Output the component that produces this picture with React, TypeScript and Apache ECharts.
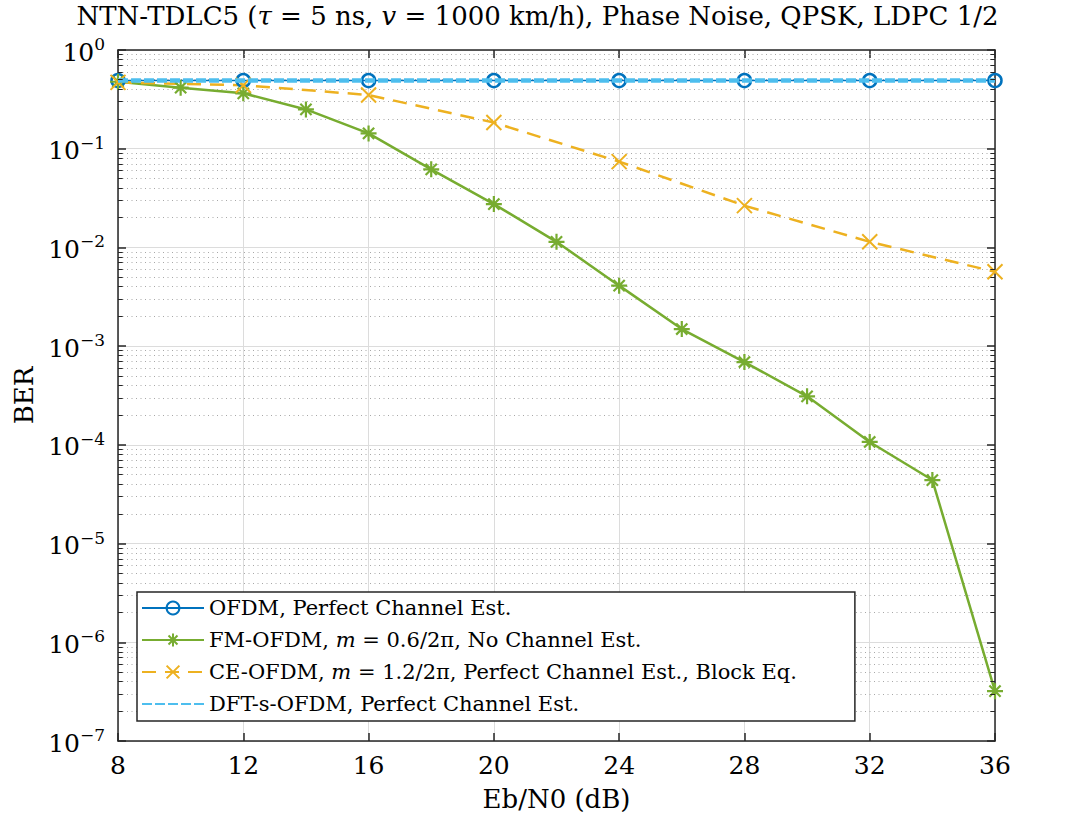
import React, { useEffect, useRef } from "react";
import * as echarts from "echarts";

const ebn0Step2 = [8, 10, 12, 14, 16, 18, 20, 22, 24, 26, 28, 30, 32, 34, 36];
const fmOfdmBer = [0.477, 0.415, 0.364, 0.25, 0.143, 0.0618, 0.0275, 0.0114, 0.0041, 0.00149, 0.00069, 0.00031, 0.000107, 0.000044, 3.2e-7];
const ebn0Step4 = [8, 12, 16, 20, 24, 28, 32, 36];
const ofdmBer = [0.49, 0.49, 0.49, 0.49, 0.49, 0.49, 0.49, 0.49];
const ceOfdmBer = [0.47, 0.44, 0.35, 0.184, 0.074, 0.0265, 0.0114, 0.00567];
const dftsOfdmBer = [0.49, 0.49, 0.49, 0.49, 0.49, 0.49, 0.49, 0.49];

const decadeExponents = [-7, -6, -5, -4, -3, -2, -1];
const minorMultipliers = [2, 3, 4, 5, 6, 7, 8, 9];

const FONT = "DejaVu Serif";
const AXIS_COLOR = "#262626";

export default function App() {
  const ref = useRef<HTMLDivElement>(null);
  useEffect(() => {
    const chart = echarts.init(ref.current!, null, { renderer: "svg" });
    const minorValues: number[] = [];
    decadeExponents.forEach((e) => minorMultipliers.forEach((m) => minorValues.push(m * Math.pow(10, e))));

    const minorGrid = minorValues.map((v) => ({ coords: [[8, v], [36, v]] }));
    const minorTicks = [
      ...minorValues.map((v) => ({ coords: [[8, v], [8.15, v]] })),
      ...minorValues.map((v) => ({ coords: [[35.85, v], [36, v]] })),
    ];

    const pair = (xs: number[], ys: number[]) => xs.map((x, i) => [x, ys[i]]);

    const asterisk = "path://M0,-6L0,6M-6,0L6,0M-4.2,-4.2L4.2,4.2M-4.2,4.2L4.2,-4.2";
    const cross = "path://M-5,-5L5,5M-5,5L5,-5";

    const option: any = {
      animation: false,
      backgroundColor: "#ffffff",
      textStyle: { fontFamily: FONT },
      title: {
        text: "NTN-TDLC5 ({i|τ} = 5 ns, {i|v} = 1000 km/h), Phase Noise, QPSK, LDPC 1/2",
        left: "center",
        top: 1,
        padding: 0,
        textStyle: {
          fontFamily: FONT,
          fontSize: 26,
          lineHeight: 30,
          fontWeight: "normal",
          color: "#000",
          rich: { i: { fontFamily: FONT, fontSize: 26, lineHeight: 30, fontStyle: "italic", color: "#000" } },
        },
      },
      grid: { left: 118, right: 80, top: 50, bottom: 80, containLabel: false },
      legend: {
        orient: "vertical",
        left: 137,
        top: 592,
        data: [
          { name: "OFDM" },
          { name: "FM-OFDM" },
          { name: "CE-OFDM" },
          { name: "DFT-s-OFDM", itemStyle: { opacity: 0 } },
        ],
        backgroundColor: "#ffffff",
        borderColor: AXIS_COLOR,
        borderWidth: 1.5,
        borderRadius: 0,
        padding: [4, 58, 5, 4],
        itemGap: 8,
        itemWidth: 62,
        itemHeight: 16,
        textStyle: {
          fontFamily: FONT,
          fontSize: 21,
          lineHeight: 24,
          color: "#000",
          rich: {
            i: { fontFamily: FONT, fontSize: 21, lineHeight: 24, fontStyle: "italic", color: "#000" },
          },
        },
        formatter: (name: string) => {
          if (name === "OFDM") return "OFDM, Perfect Channel Est.";
          if (name === "FM-OFDM") return "FM-OFDM, {i|m} = 0.6/2π, No Channel Est.";
          if (name === "CE-OFDM") return "CE-OFDM, {i|m} = 1.2/2π, Perfect Channel Est., Block Eq.";
          return "DFT-s-OFDM, Perfect Channel Est.";
        },
      },
      xAxis: [
        {
          type: "value",
          min: 8,
          max: 36,
          interval: 4,
          name: "Eb/N0 (dB)",
          nameLocation: "middle",
          nameGap: 45,
          nameTextStyle: { fontFamily: FONT, fontSize: 26, color: "#000" },
          axisLine: { show: true, lineStyle: { color: AXIS_COLOR, width: 1.5 } },
          axisTick: { show: true, inside: true, length: 8, lineStyle: { color: AXIS_COLOR, width: 1.5 } },
          axisLabel: { fontFamily: FONT, fontSize: 25, color: "#000", margin: 12 },
          splitLine: { show: true, lineStyle: { color: "#dcdcdc", width: 1 } },
        },
        {
          type: "value",
          position: "top",
          min: 8,
          max: 36,
          interval: 4,
          axisLine: { show: true, lineStyle: { color: AXIS_COLOR, width: 1.5 } },
          axisTick: { show: true, inside: true, length: 8, lineStyle: { color: AXIS_COLOR, width: 1.5 } },
          axisLabel: { show: false },
          splitLine: { show: false },
        },
      ],
      yAxis: [
        {
          type: "log",
          logBase: 10,
          min: 1e-7,
          max: 1,
          splitNumber: 7,
          name: "BER",
          nameLocation: "middle",
          nameGap: 78,
          nameTextStyle: { fontFamily: FONT, fontSize: 26, color: "#000" },
          axisLine: { show: true, lineStyle: { color: AXIS_COLOR, width: 1.5 } },
          axisTick: { show: true, inside: true, length: 8, lineStyle: { color: AXIS_COLOR, width: 1.5 } },
          axisLabel: {
            margin: 13,
            formatter: (v: number) => {
              const e = Math.round(Math.log10(v));
              return "{b|10}{s|" + (e < 0 ? "\u2212" + -e : String(e)) + "}";
            },
            rich: {
              b: { fontFamily: FONT, fontSize: 25, color: "#000", verticalAlign: "bottom", lineHeight: 29 },
              s: { fontFamily: FONT, fontSize: 17, color: "#000", verticalAlign: "top", lineHeight: 29 },
            },
          },
          splitLine: { show: true, lineStyle: { color: "#dcdcdc", width: 1 } },
        },
        {
          type: "log",
          logBase: 10,
          min: 1e-7,
          max: 1,
          splitNumber: 7,
          position: "right",
          axisLine: { show: true, lineStyle: { color: AXIS_COLOR, width: 1.5 } },
          axisTick: { show: true, inside: true, length: 8, lineStyle: { color: AXIS_COLOR, width: 1.5 } },
          axisLabel: { show: false },
          splitLine: { show: false },
        },
      ],
      series: [
        {
          name: "minorGrid",
          type: "lines",
          coordinateSystem: "cartesian2d",
          silent: true,
          z: 1,
          lineStyle: { type: [1, 3.5], color: "#a8a8a8", width: 1, opacity: 1 },
          data: minorGrid,
        },
        {
          name: "minorTicks",
          type: "lines",
          coordinateSystem: "cartesian2d",
          silent: true,
          z: 5,
          lineStyle: { type: "solid", color: AXIS_COLOR, width: 1, opacity: 1 },
          data: minorTicks,
        },
        {
          name: "OFDM",
          type: "line",
          data: pair(ebn0Step4, ofdmBer),
          symbol: "circle",
          symbolSize: 13,
          showAllSymbol: true,
          lineStyle: { color: "#0072BD", width: 1.5, type: "solid" },
          itemStyle: { color: "none", borderColor: "#0072BD", borderWidth: 2.5 },
          z: 3,
        },
        {
          name: "FM-OFDM",
          type: "line",
          data: pair(ebn0Step2, fmOfdmBer),
          symbol: asterisk,
          symbolSize: 16,
          showAllSymbol: true,
          lineStyle: { color: "#77AC30", width: 2.5, type: "solid" },
          itemStyle: { color: "none", borderColor: "#77AC30", borderWidth: 2.2 },
          z: 3,
        },
        {
          name: "CE-OFDM",
          type: "line",
          data: pair(ebn0Step4, ceOfdmBer),
          symbol: cross,
          symbolSize: 15,
          showAllSymbol: true,
          lineStyle: { color: "#EDB120", width: 2.5, type: [14, 9] },
          itemStyle: { color: "none", borderColor: "#EDB120", borderWidth: 2 },
          z: 3,
        },
        {
          name: "DFT-s-OFDM",
          type: "line",
          data: pair(ebn0Step4, dftsOfdmBer),
          symbol: "none",
          lineStyle: { color: "#4DBEEE", width: 4.5, type: [10, 3] },
          itemStyle: { color: "#4DBEEE" },
          z: 4,
        },
      ],
    };
    chart.setOption(option);
    return () => chart.dispose();
  }, []);
  return <div ref={ref} style={{ width: 1075, height: 821, position: "absolute", left: 0, top: 0 }} />;
}
